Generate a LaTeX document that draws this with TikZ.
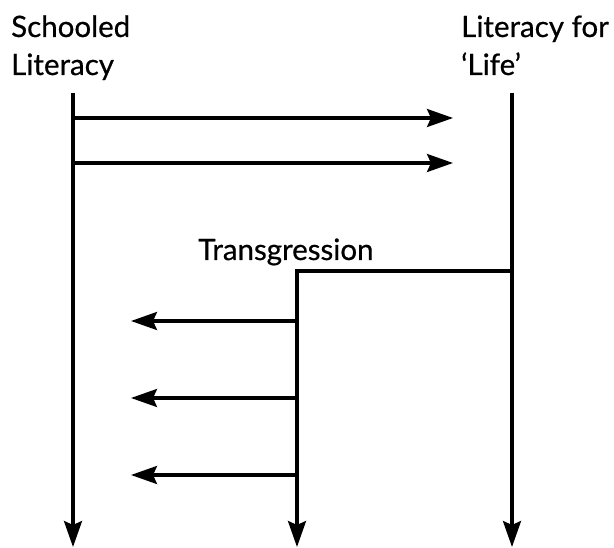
\documentclass[tikz,border=0pt]{standalone}
\usepackage{fontspec}
\setmainfont{Lato}
\newfontfamily\lblfont[FakeBold=0.6,Ligatures=TeX]{Lato}
\usetikzlibrary{arrows.meta}
\begin{document}
\begin{tikzpicture}[x=1pt,y=-1pt,
  arr/.style={line width=3.2pt,-{Stealth[length=26pt,width=18pt,inset=4pt]}},
  lbl/.style={inner sep=0pt,anchor=base west,font=\lblfont\fontsize{29.5}{38}\selectfont}]
\useasboundingbox (0,0) rectangle (614,548);
% labels
\node[lbl] (sl1) at (11,37) {Schooled};
\node[lbl] (sl2) at (11,75) {Literacy};
\node[lbl] (lf1) at (461,37) {Literacy for};
\node[lbl] (lf2) at (461,75) {‘Life’};
\node[lbl] (tr) at (198,260) {Transgression};
% coordinates
\coordinate (lt) at (73,93);
\coordinate (lb) at (73,547);
\coordinate (rt) at (512,93);
\coordinate (rb) at (512,547);
\coordinate (rc) at (512,271);
\coordinate (mt) at (297,271);
\coordinate (mb) at (297,547);
\coordinate (a1s) at (73,118);
\coordinate (a1e) at (453,118);
\coordinate (a2s) at (73,163);
\coordinate (a2e) at (453,163);
\coordinate (b1s) at (297,321);
\coordinate (b1e) at (131,321);
\coordinate (b2s) at (297,398);
\coordinate (b2e) at (131,398);
\coordinate (b3s) at (297,475);
\coordinate (b3e) at (131,475);
% verticals
\draw[arr] (lt) -- (lb);
\draw[arr] (rt) -- (rb);
\draw[arr,line join=miter] (rc) -- (mt) -- (mb);
% horizontals
\draw[arr] (a1s) -- (a1e);
\draw[arr] (a2s) -- (a2e);
\draw[arr] (b1s) -- (b1e);
\draw[arr] (b2s) -- (b2e);
\draw[arr] (b3s) -- (b3e);
\end{tikzpicture}
\end{document}
